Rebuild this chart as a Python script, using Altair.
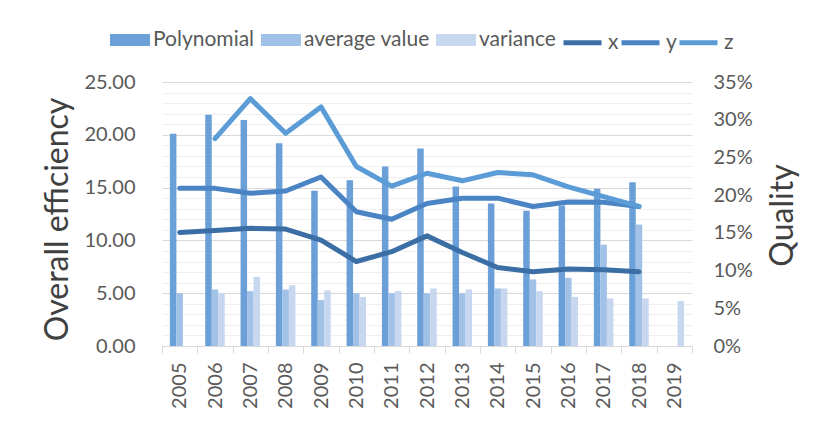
import altair as alt
import pandas as pd

# Categories
years = [str(y) for y in range(2005, 2020)]

# Bar series (left axis)
polynomial = [20.1, 21.9, 21.4, 19.2, 14.7, 15.7, 17.0, 18.7, 15.1, 13.5, 12.8, 13.3, 14.9, 15.5, None]
average_value = [5.0, 5.35, 5.2, 5.35, 4.35, 5.0, 5.0, 5.0, 5.0, 5.45, 6.3, 6.45, 9.6, 11.5, None]
variance = [None, 5.0, 6.55, 5.75, 5.25, 4.65, 5.2, 5.45, 5.35, 5.45, 5.2, 4.65, 4.5, 4.5, 4.25]

# Line series (right axis, fractions)
x_line = [0.1505, 0.153, 0.156, 0.155, 0.1405, 0.112, 0.125, 0.146, 0.124, 0.104, 0.0985, 0.102, 0.101, 0.0985, None]
y_line = [0.209, 0.209, 0.2025, 0.2055, 0.224, 0.178, 0.168, 0.189, 0.196, 0.196, 0.185, 0.191, 0.1905, 0.185, None]
z_line = [None, 0.275, 0.328, 0.282, 0.317, 0.238, 0.212, 0.229, 0.219, 0.230, 0.227, 0.211, 0.198, 0.185, None]

bar_names = ["Polynomial", "average value", "variance"]
bar_colors = ["#6a9fd8", "#a2c1e7", "#c7d7ef"]
line_names = ["x", "y", "z"]
line_colors = ["#3c6ea6", "#4a84c4", "#5b9bd6"]

FONT = "Lato"
TEXT = "#595959"

bar_rows = []
for name, vals in zip(bar_names, [polynomial, average_value, variance]):
    for yr, v in zip(years, vals):
        if v is not None:
            bar_rows.append({"year": yr, "series": name, "value": v})
bars_df = pd.DataFrame(bar_rows)

line_rows = []
for name, vals in zip(line_names, [x_line, y_line, z_line]):
    for yr, v in zip(years, vals):
        if v is not None:
            line_rows.append({"year": yr, "series": name, "value": v})
lines_df = pd.DataFrame(line_rows)

x_enc = alt.X(
    "year:N",
    scale=alt.Scale(domain=years, paddingInner=0, paddingOuter=0),
    axis=alt.Axis(
        title=None,
        labelAngle=270,
        labelFont=FONT,
        labelFontSize=20,
        labelColor=TEXT,
        labelPadding=9,
        tickBand="extent",
        tickSize=7,
        tickColor="#d9d9d9",
        domainColor="#d9d9d9",
        grid=False,
    ),
)

bars = alt.Chart(bars_df).mark_bar().encode(
    x=x_enc,
    xOffset=alt.XOffset(
        "series:N",
        scale=alt.Scale(domain=bar_names, range=[7.9, 27.4], paddingInner=0, paddingOuter=0),
    ),
    y=alt.Y(
        "value:Q",
        scale=alt.Scale(domain=[0, 25], nice=False),
        axis=alt.Axis(
            values=list(range(26)),
            labelExpr="datum.value % 5 === 0 ? format(datum.value, '.2f') : ''",
            labelOverlap=False,
            labelFont=FONT,
            labelFontSize=20,
            labelColor=TEXT,
            labelPadding=27,
            ticks=False,
            domain=False,
            gridColor={"condition": {"test": "datum.value % 5 === 0", "value": "#d9d9d9"},
                       "value": "#efefef"},
            title="Overall efficiency",
            titleFont=FONT,
            titleFontSize=32,
            titleFontWeight="normal",
            titleColor="#404040",
            titleAngle=270,
            titleX=-105,
            titleY=137,
            titleAlign="center",
            titleBaseline="middle",
        ),
    ),
    fill=alt.Fill(
        "series:N",
        scale=alt.Scale(domain=bar_names, range=bar_colors),
        legend=alt.Legend(
            orient="none",
            legendX=-52,
            legendY=-62,
            direction="horizontal",
            title=None,
            symbolType="M-1,-0.3H1V0.3H-1Z",
            symbolSize=1600,
            symbolStrokeWidth=0,
            labelFont=FONT,
            labelFontSize=21,
            labelColor=TEXT,
            labelOffset=3,
            columnPadding=6,
        ),
    ),
)

lines = alt.Chart(lines_df).mark_line(strokeWidth=5, strokeCap="round", strokeJoin="round").encode(
    x=x_enc,
    y=alt.Y(
        "value:Q",
        scale=alt.Scale(domain=[0, 0.35], nice=False),
        axis=alt.Axis(
            orient="right",
            values=[0, 0.05, 0.10, 0.15, 0.20, 0.25, 0.30, 0.35],
            format=".0%",
            labelFont=FONT,
            labelFontSize=20,
            labelColor=TEXT,
            labelPadding=21,
            ticks=False,
            domain=False,
            grid=False,
            title="Quality",
            titleFont=FONT,
            titleFontSize=32,
            titleFontWeight="normal",
            titleColor="#404040",
            titleAngle=270,
            titleX=90,
            titleY=133,
            titleAlign="center",
            titleBaseline="middle",
        ),
    ),
    stroke=alt.Stroke(
        "series:N",
        scale=alt.Scale(domain=line_names, range=line_colors),
        legend=alt.Legend(
            orient="none",
            legendX=399,
            legendY=-61,
            direction="horizontal",
            title=None,
            symbolType="stroke",
            symbolSize=1444,
            symbolStrokeWidth=5,
            labelFont=FONT,
            labelFontSize=21,
            labelColor=TEXT,
            labelOffset=4,
            columnPadding=-16,
        ),
    ),
    order=alt.Order("year:N"),
)

chart = (
    alt.layer(bars, lines)
    .resolve_scale(y="independent")
    .properties(
        width=530,
        height=264,
        padding={"left": 162, "top": 82, "right": 144, "bottom": 86},
        autosize=alt.AutoSizeParams(type="none"),
        background="white",
    )
    .configure_view(stroke=None)
)

chart.save("out.html", embed_options={"renderer": "svg", "actions": False})
